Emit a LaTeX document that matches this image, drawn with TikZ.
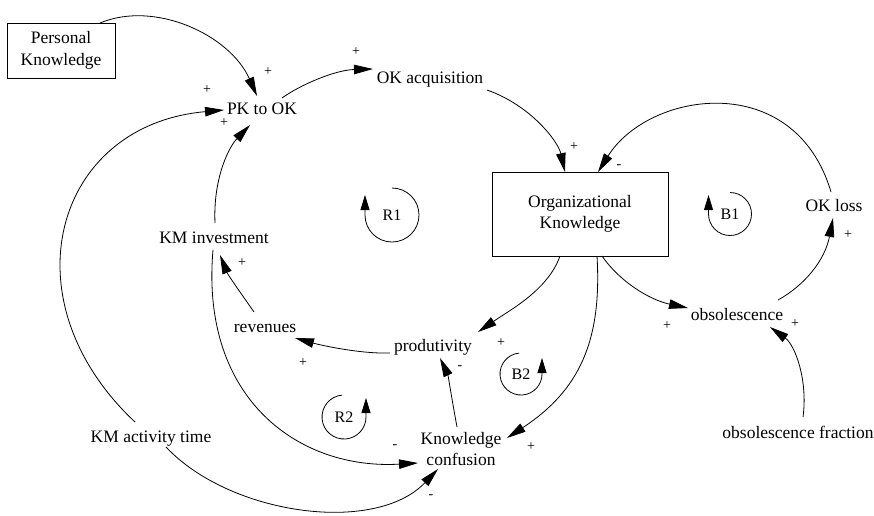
\documentclass[tikz,border=0pt]{standalone}
\usepackage{fontspec}
\setmainfont{Liberation Serif}
\usetikzlibrary{arrows.meta,calc}
\begin{document}
\begin{tikzpicture}[x=1pt,y=-1pt,
  txt/.style={inner sep=0pt, font=\fontsize{17.5}{21.5}\selectfont, text height=12pt, text depth=4pt},
  box/.style={draw, line width=0.9pt, inner sep=0pt, font=\fontsize{17.5}{21.5}\selectfont, align=center},
  mtxt/.style={inner sep=0pt, font=\fontsize{17.5}{21.5}\selectfont, align=center},
  link/.style={line width=0.8pt, -{Triangle[length=19pt,width=9.5pt]}},
  sgn/.style={inner sep=0pt, font=\fontsize{14}{14}\selectfont},
  loopar/.style={line width=0.8pt, -{Triangle[length=15pt,width=9pt]}},
  looptxt/.style={inner sep=0pt, font=\fontsize{16}{16}\selectfont}]
\useasboundingbox (0,0) rectangle (874,515);

% stocks
\node[box, minimum width=108pt, minimum height=55pt] (pk) at (61,50.5) {Personal\\Knowledge};
\node[box, minimum width=176pt, minimum height=84pt] (ok) at (580,214) {Organizational\\Knowledge};

% variables
\node[txt] (pktook) at (262,110.5) {PK to OK};
\node[txt] (okacq) at (430,79) {OK acquisition};
\node[txt] (okloss) at (834,207) {OK loss};
\node[txt] (kminv) at (214,239) {KM investment};
\node[txt] (rev) at (265,328) {revenues};
\node[txt] (prod) at (433,347) {produtivity};
\node[txt] (kmat) at (151,438) {KM activity time};
\node[txt] (obs) at (737,316) {obsolescence};
\node[txt] (obsfrac) at (798,434) {obsolescence fraction};
\node[mtxt] (kconf) at (461,449) {Knowledge\\confusion};

% links
\draw[link] ($(pk)+(39,-27.5)$) .. controls +(55,-23) and +(-27,-61) .. ($(pktook)+(-5,-14.5)$);
\draw[link] ($(pktook)+(20,-12.5)$) .. controls +(18,-13) and +(-38,1) .. ($(okacq)+(-57,-10)$);
\draw[link] ($(okacq)+(57,11)$) .. controls +(43,15) and +(-7,-31) .. ($(ok)+(-15,-42)$);
\draw[link] ($(okloss)+(-3,-15)$) .. controls +(-36.5,-123.3) and +(51,-81.3) .. ($(ok)+(18,-42)$);
\draw[link] ($(ok)+(-20,42)$) .. controls +(-12,34) and +(32,-22) .. ($(prod)+(45,-15)$);
\draw[link] ($(ok)+(17,42)$) .. controls +(5,84) and +(73,-48) .. ($(kconf)+(46,-11)$);
\draw[link] ($(ok)+(22,42)$) .. controls +(18,26) and +(-38,-8) .. ($(obs)+(-49,-8)$);
\draw[link] ($(obs)+(41,-16)$) .. controls +(27,-15) and +(-8,42) .. ($(okloss)+(-1,11)$);
\draw[link] ($(obsfrac)+(5,-17)$) .. controls +(5,-37) and +(25,18) .. ($(obs)+(33,11)$);
\draw[link] ($(kminv)+(1,-16)$) .. controls +(-2,-43) and +(-22,23) .. ($(pktook)+(-12,14.5)$);
\draw[link] ($(kmat)+(-16,-16)$) .. controls +(-130,-122) and +(-170,15) .. ($(pktook)+(-38,-0.5)$);
\draw[link] ($(kminv)+(-1,11)$) .. controls +(-13,150) and +(-118,7) .. ($(kconf)+(-43,14)$);
\draw[link] ($(kmat)+(15,9)$) .. controls +(64,68) and +(-63,66) .. ($(kconf)+(-23,20)$);
\draw[link] ($(kconf)+(-4,-22)$) .. controls +(-5,-27) and +(8,17) .. ($(prod)+(7,11)$);
\draw[link] ($(prod)+(-43,6)$) .. controls +(-30,1) and +(25,7) .. ($(rev)+(30,10)$);
\draw[link] ($(rev)+(-11,-16)$) .. controls +(-14,-20) and +(8,20) .. ($(kminv)+(6,16)$);

% polarity signs
\node[sgn] (s1) at (268,72) {+};
\node[sgn] (s2) at (207,90) {+};
\node[sgn] (s3) at (224,123) {+};
\node[sgn] (s4) at (356,52) {+};
\node[sgn] (s5) at (574,147) {+};
\node[sgn] (s6) at (619,167) {-};
\node[sgn] (s7) at (848,235) {+};
\node[sgn] (s8) at (667,326) {+};
\node[sgn] (s9) at (795,324) {+};
\node[sgn] (s10) at (242,263) {+};
\node[sgn] (s11) at (303,363) {+};
\node[sgn] (s12) at (501,343) {+};
\node[sgn] (s13) at (460,368) {-};
\node[sgn] (s14) at (531,447) {+};
\node[sgn] (s15) at (395,447) {-};
\node[sgn] (s16) at (431,497) {-};

% loop markers
\node[looptxt] (r1) at (392,215) {R1};
\node[looptxt] (b1) at (730,214) {B1};
\node[looptxt] (r2) at (344,417) {R2};
\node[looptxt] (b2) at (521,374) {B2};
\begin{scope}[shift={(r1)}, x=1pt, y=1pt]
  \draw[loopar] (90:27) arc[start angle=90, end angle=-180, radius=27] -- ++(0,20);
\end{scope}
\begin{scope}[shift={(b1)}, x=1pt, y=1pt]
  \draw[loopar] (90:21.5) arc[start angle=90, end angle=-180, radius=21.5] -- ++(0,19);
\end{scope}
\begin{scope}[shift={(r2)}, x=1pt, y=1pt]
  \draw[loopar] (95:22) arc[start angle=95, end angle=360, radius=22] -- ++(0,19);
\end{scope}
\begin{scope}[shift={(b2)}, x=1pt, y=1pt]
  \draw[loopar] (95:21) arc[start angle=95, end angle=360, radius=21] -- ++(0,16);
\end{scope}
\end{tikzpicture}
\end{document}
